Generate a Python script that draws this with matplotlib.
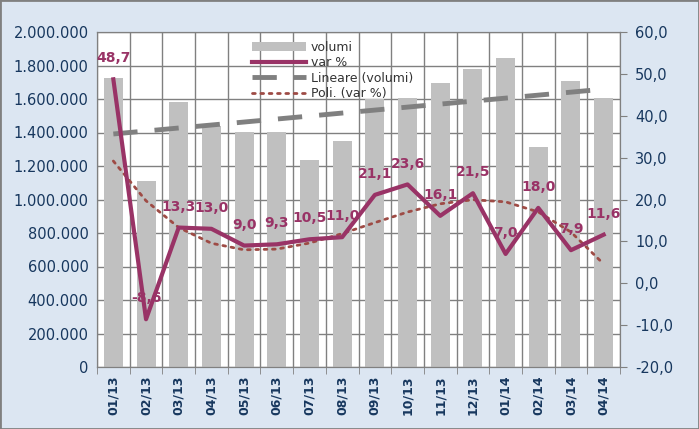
import numpy as np
import matplotlib
matplotlib.use("Agg")
import matplotlib.pyplot as plt
from matplotlib.ticker import FuncFormatter, MultipleLocator

months = ["01/13", "02/13", "03/13", "04/13", "05/13", "06/13", "07/13", "08/13",
          "09/13", "10/13", "11/13", "12/13", "01/14", "02/14", "03/14", "04/14"]
volumi = [1725000, 1110000, 1582000, 1439000, 1403000, 1403000, 1236000, 1349000,
          1600000, 1606000, 1696000, 1779000, 1845000, 1313000, 1707000, 1606000]
var_pct = [48.7, -8.6, 13.3, 13.0, 9.0, 9.3, 10.5, 11.0,
           21.1, 23.6, 16.1, 21.5, 7.0, 18.0, 7.9, 11.6]

BG = "#DCE6F2"
NAVY = "#17375E"
PLUM = "#993366"
GRID = "#808080"

fig = plt.figure(figsize=(6.99, 4.29), dpi=100, facecolor=BG)
ax = fig.add_axes([97 / 699, 1 - 367 / 429, 523 / 699, 335 / 429])
ax2 = ax.twinx()

x = np.arange(len(months))
ax.bar(x, volumi, width=0.58, color="#C0C0C0", label="volumi", zorder=2)

# trend lines like Excel (linear on volumes, 3rd order polynomial on var %)
xs = np.arange(1, len(months) + 1)
lin = np.polyval(np.polyfit(xs, volumi, 1), xs)
ax.plot(x, lin, color="#808080", lw=3.5, dashes=(5, 3.5), label="Lineare (volumi)", zorder=3)

poly = np.polyval(np.polyfit(xs, var_pct, 3), xs)
ax2.plot(x, poly, color="#9E4B45", lw=2, ls=(0, (1, 2)), dash_capstyle="round",
         label="Poli. (var %)", zorder=3)
ax2.plot(x, var_pct, color=PLUM, lw=3, label="var %", zorder=4)

for xi, v in zip(x, var_pct):
    ax2.annotate(f"{v:.1f}".replace(".", ","), (xi, v), xytext=(0, 15),
                 textcoords="offset points", ha="center", va="center",
                 color=PLUM, fontsize=10, fontweight="semibold", zorder=5)

ax.set_xlim(-0.5, len(months) - 0.5)
ax.set_ylim(0, 2000000)
ax2.set_ylim(-20, 60)
ax.yaxis.set_major_locator(MultipleLocator(200000))
ax2.yaxis.set_major_locator(MultipleLocator(10))
ax.yaxis.set_major_formatter(FuncFormatter(lambda v, p: f"{v:,.0f}".replace(",", ".")))
ax2.yaxis.set_major_formatter(FuncFormatter(lambda v, p: f"{v:.1f}".replace(".", ",")))

ax.set_xticks(x)
ax.set_xticklabels(months, rotation=90, fontsize=9, fontweight="bold", color=NAVY)
ax.set_xticks(np.arange(-0.5, len(months)), minor=True)
ax.tick_params(axis="x", which="major", length=0, pad=6)
ax.tick_params(axis="x", which="minor", length=5, color=GRID)
ax.tick_params(axis="y", length=0, labelsize=10.5, labelcolor=NAVY, pad=6)
ax2.tick_params(axis="y", length=5, color=GRID, labelsize=10.5, labelcolor=NAVY, pad=6)

ax.grid(True, which="minor", axis="x", color=GRID, lw=1, zorder=0)
ax.grid(True, which="major", axis="y", color=GRID, lw=1, zorder=0)
ax.set_axisbelow(True)
for a in (ax, ax2):
    for s in a.spines.values():
        s.set_color(GRID)

handles = []
labels = []
for a in (ax, ax2):
    h, l = a.get_legend_handles_labels()
    handles += h
    labels += l
order = ["volumi", "var %", "Lineare (volumi)", "Poli. (var %)"]
hmap = dict(zip(labels, handles))
ax2.legend([hmap[k] for k in order], order, loc="upper left", bbox_to_anchor=(0.28, 1.0),
           frameon=False, fontsize=9, labelspacing=0.2, handlelength=4.3,
           handletextpad=0.4, borderpad=0.2, labelcolor="#333333")

fig.patches.append(plt.Rectangle((0, 0), 1, 1, transform=fig.transFigure, fill=False,
                                 edgecolor="#808080", lw=2))

fig.savefig("out.png", dpi=100, facecolor=BG)
